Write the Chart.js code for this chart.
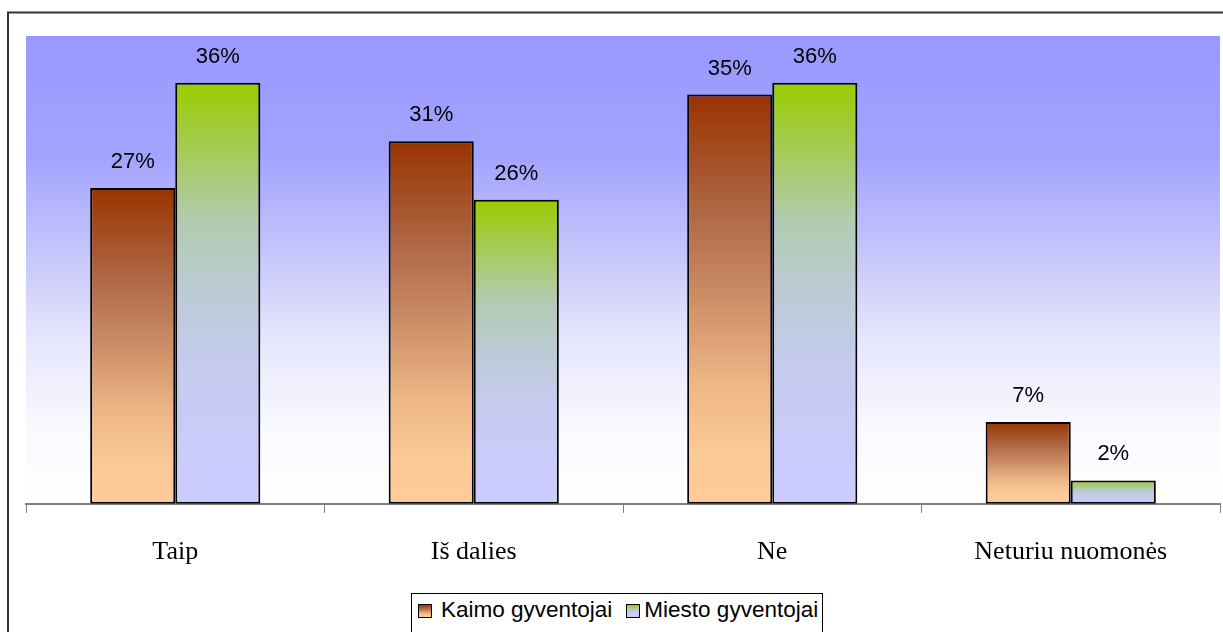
<!DOCTYPE html>
<html>
<head>
<meta charset="utf-8">
<script src="https://cdn.jsdelivr.net/npm/chart.js@4/dist/chart.umd.min.js"></script>
<style>
    html, body { margin: 0; padding: 0; background: #fff; overflow: hidden; }
    #wrap { position: relative; width: 1223px; height: 632px; }
    #legend {
        position: absolute; left: 411px; top: 593px; width: 412px; height: 60px;
        border: 1px solid #000; background: #fff;
        font-family: "Liberation Sans", Arial, sans-serif; font-size: 22.5px; color: #000;
        box-sizing: border-box; padding: 3px 0 0 6px; white-space: nowrap;
    }
    #legend .item { display: inline-block; margin-right: 14px; }
    #legend .item:last-child { margin-right: 0; }
    #legend .box {
        display: inline-block; width: 12px; height: 12px; border: 1px solid #000;
        vertical-align: -1px; margin-right: 9px;
    }
    #legend .item + .item .box { margin-right: 4px; }
</style>
</head>
<body>
<div id="wrap">
    <canvas id="chart" width="1223" height="632"></canvas>
    <div id="legend"></div>
</div>
<script>
// data
const categories = ['Taip', 'Iš dalies', 'Ne', 'Neturiu nuomonės'];
const seriesNames = ['Kaimo gyventojai', 'Miesto gyventojai'];
const kaimo = [27, 31, 35, 7];
const miesto = [36, 26, 36, 2];
const yMax = 40;

// gradient stops for each series (top -> bottom of a bar)
const kaimoStops = [[0, '#993300'], [0.3, '#b06a48'], [0.5, '#cc8e66'], [0.7, '#ecb585'], [0.88, '#fcca97'], [1, '#ffcc99']];
const miestoStops = [[0, '#99cc00'], [0.33, '#b2cbb0'], [0.5, '#bccbd6'], [0.68, '#c6cbf0'], [1, '#ccccff']];

function barGradient(stops) {
    return function(ctx) {
        const chart = ctx.chart;
        const y = chart.scales.y;
        if (!chart.chartArea || !y || ctx.raw === undefined) return stops[stops.length - 1][1];
        const top = y.getPixelForValue(ctx.raw);
        const bottom = y.getPixelForValue(0);
        const g = chart.ctx.createLinearGradient(0, top, 0, bottom);
        stops.forEach(s => g.addColorStop(s[0], s[1]));
        return g;
    };
}

// plot area background + outer frame
const backdrop = {
    id: 'backdrop',
    beforeDraw(chart) {
        const c = chart.ctx, a = chart.chartArea;
        c.save();
        c.strokeStyle = '#333';
        c.lineWidth = 2;
        c.strokeRect(8, 12.5, 1400, 800);
        const g = c.createLinearGradient(0, a.top, 0, a.bottom);
        g.addColorStop(0, '#9999ff');
        g.addColorStop(0.25, '#a2a2ff');
        g.addColorStop(0.45, '#c3c3fb');
        g.addColorStop(0.65, '#e6e6fd');
        g.addColorStop(0.85, '#fafaff');
        g.addColorStop(1, '#ffffff');
        c.fillStyle = g;
        c.fillRect(a.left, a.top, a.right - a.left, a.bottom - a.top);
        c.restore();
    }
};

// percent labels above bars
const valueLabels = {
    id: 'valueLabels',
    afterDatasetsDraw(chart) {
        const c = chart.ctx;
        c.save();
        c.font = '22px "Liberation Sans", Arial, sans-serif';
        c.fillStyle = '#000';
        c.textAlign = 'center';
        c.textBaseline = 'middle';
        chart.data.datasets.forEach((ds, i) => {
            chart.getDatasetMeta(i).data.forEach((bar, j) => {
                c.fillText(ds.data[j] + '%', bar.x, bar.y - 26);
            });
        });
        c.restore();
    }
};

const chart = new Chart(document.getElementById('chart').getContext('2d'), {
    type: 'bar',
    data: {
        labels: categories,
        datasets: [{
            label: seriesNames[0],
            data: kaimo,
            backgroundColor: barGradient(kaimoStops),
            borderColor: '#000',
            borderWidth: 2,
            borderSkipped: false
        }, {
            label: seriesNames[1],
            data: miesto,
            backgroundColor: barGradient(miestoStops),
            borderColor: '#000',
            borderWidth: 2,
            borderSkipped: false
        }]
    },
    options: {
        responsive: false,
        animation: false,
        events: [],
        categoryPercentage: 0.57,
        barPercentage: 1,
        layout: {
            padding: { left: 26, top: 36, right: 3, bottom: 40 }
        },
        plugins: {
            legend: { display: false },
            tooltip: { enabled: false }
        },
        scales: {
            x: {
                grid: {
                    offset: true,
                    drawOnChartArea: false,
                    drawTicks: true,
                    tickLength: 9,
                    color: '#808080'
                },
                border: { display: true, color: '#808080', width: 2 },
                ticks: {
                    color: '#000',
                    padding: 24,
                    font: { family: '"Liberation Serif", "Times New Roman", serif', size: 26 }
                }
            },
            y: {
                display: false,
                min: 0,
                max: yMax
            }
        }
    },
    plugins: [backdrop, valueLabels]
});

// legend with gradient swatches
const legend = document.getElementById('legend');
[kaimoStops, miestoStops].forEach((stops, i) => {
    const css = 'linear-gradient(to bottom, ' + stops.map(s => s[1] + ' ' + (s[0] * 100) + '%').join(', ') + ')';
    const item = document.createElement('span');
    item.className = 'item';
    const box = document.createElement('span');
    box.className = 'box';
    box.style.background = css;
    item.appendChild(box);
    item.appendChild(document.createTextNode(seriesNames[i]));
    legend.appendChild(item);
});
</script>
</body>
</html>
